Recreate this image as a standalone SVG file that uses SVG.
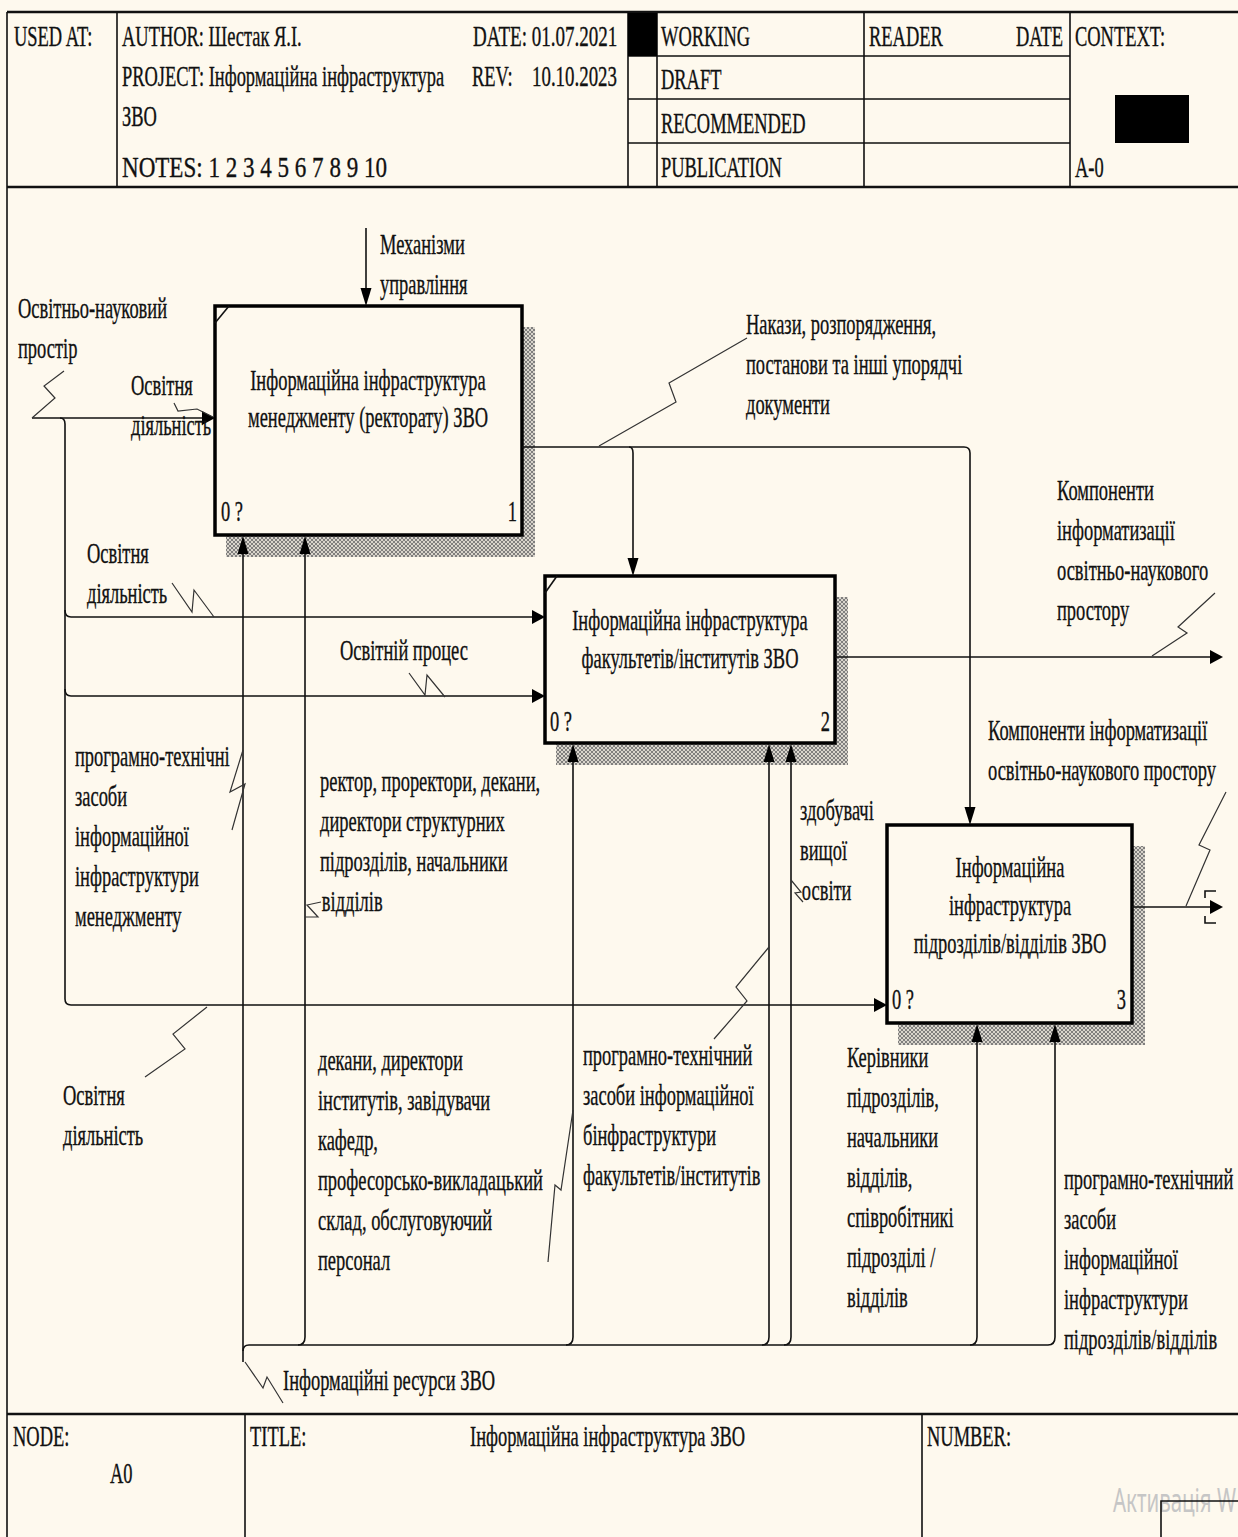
<svg xmlns="http://www.w3.org/2000/svg" xmlns:xlink="http://www.w3.org/1999/xlink" width="1238" height="1537" viewBox="0 0 1238 1537">
  <style>
    .t { font-family: "Liberation Serif", "Times New Roman", serif; font-size: 30px; fill: #111; stroke: #111; stroke-width: 0.35; }
    .mid { text-anchor: middle; }
    .end { text-anchor: end; }
    .frame { stroke: #111; stroke-width: 1.6; fill: none; }
    .thick { stroke: #111; stroke-width: 2.6; fill: none; }
    .ln { stroke: #111; stroke-width: 1.6; fill: none; }
    .sq { stroke: #333; stroke-width: 1.2; fill: none; }
    .box { fill: #fef9ee; stroke: #000; stroke-width: 3.5; }
    .shadow { fill: url(#hatch); }
    .ah { fill: #000; }
    .wm { font-family: "Noto Sans", "Liberation Sans", sans-serif; font-size: 33px; fill: #c6c6c6; }
  </style>
  <defs>
    <pattern id="hatch" width="4" height="4" patternUnits="userSpaceOnUse">
      <rect width="4" height="4" fill="#d9d5cc"/>
      <path d="M0 4 L4 0 M0 0 L4 4" stroke="#6a6a6a" stroke-width="0.8"/>
    </pattern>
    <!-- arrowheads: tip at the origin -->
    <path id="ahR" class="ah" d="M0 0 L-13 -7 L-13 7 Z"/>
    <path id="ahD" class="ah" d="M0 0 L-5.5 -18 L5.5 -18 Z"/>
    <path id="ahU" class="ah" d="M0 0 L-5.5 18 L5.5 18 Z"/>
  </defs>

  <rect width="1238" height="1537" fill="#fef9ee"/>

  <!-- header frame -->
  <g id="header">
    <path class="thick" d="M7 12 H1238 M7 187 H1238"/>
    <path class="frame" d="M7 12 V1537 M117 12 V187 M628 12 V187 M657 12 V187 M864 12 V187 M1070 12 V187"/>
    <path class="frame" d="M628 56 H1070 M628 99 H1070 M628 143 H1070"/>
    <rect x="628" y="13" width="29" height="43" fill="#000"/>
    <rect x="1115" y="95" width="74" height="48" fill="#000"/>
    <g transform="translate(14 46) scale(.615 1)"><text class="t">USED AT:</text></g>
    <g transform="translate(122 46) scale(.615 1)"><text class="t">AUTHOR:  Шестак Я.І.</text></g>
    <g transform="translate(473 46) scale(.635 1)"><text class="t">DATE: 01.07.2021</text></g>
    <g transform="translate(122 86) scale(.615 1)"><text class="t">PROJECT:  Інформаційна інфраструктура</text></g>
    <g transform="translate(472 86) scale(.615 1)"><text class="t">REV:</text></g>
    <g transform="translate(532 86) scale(.63 1)"><text class="t">10.10.2023</text></g>
    <g transform="translate(122 126) scale(.615 1)"><text class="t">ЗВО</text></g>
    <text class="t" x="122" y="177" textLength="265" lengthAdjust="spacingAndGlyphs">NOTES:  1  2  3  4  5  6  7  8  9  10</text>
    <g transform="translate(661 46) scale(.615 1)"><text class="t">WORKING</text></g>
    <g transform="translate(869 46) scale(.615 1)"><text class="t">READER</text></g>
    <g transform="translate(1063 46) scale(.615 1)"><text class="t end">DATE</text></g>
    <g transform="translate(1075 46) scale(.615 1)"><text class="t">CONTEXT:</text></g>
    <g transform="translate(661 89) scale(.615 1)"><text class="t">DRAFT</text></g>
    <g transform="translate(661 133) scale(.615 1)"><text class="t">RECOMMENDED</text></g>
    <g transform="translate(661 177) scale(.615 1)"><text class="t">PUBLICATION</text></g>
    <g transform="translate(1075 177) scale(.615 1)"><text class="t">A-0</text></g>
  </g>

  <!-- footer frame -->
  <g id="footer">
    <path class="thick" d="M7 1414 H1238"/>
    <path class="frame" d="M245 1414 V1537 M922 1414 V1537"/>
    <g transform="translate(13 1446) scale(.615 1)"><text class="t">NODE:</text></g>
    <g transform="translate(110 1483) scale(.615 1)"><text class="t">A0</text></g>
    <g transform="translate(250 1446) scale(.615 1)"><text class="t">TITLE:</text></g>
    <g transform="translate(470 1446) scale(.615 1)"><text class="t">Інформаційна  інфраструктура ЗВО</text></g>
    <g transform="translate(927 1446) scale(.615 1)"><text class="t">NUMBER:</text></g>
  </g>

  <!-- activities -->
  <g id="node1">
    <rect class="shadow" x="522" y="327" width="13" height="230"/>
    <rect class="shadow" x="226" y="535" width="309" height="22"/>
    <rect class="box" x="215" y="306" width="307" height="229"/>
    <path class="ln" d="M215 323 L229 306"/>
    <g transform="translate(368 390) scale(.615 1)"><text class="t mid"><tspan x="0">Інформаційна інфраструктура</tspan><tspan x="0" y="37">менеджменту (ректорату) ЗВО</tspan></text></g>
    <g transform="translate(221 521) scale(.615 1)"><text class="t">0 ?</text></g>
    <g transform="translate(517 521) scale(.615 1)"><text class="t end">1</text></g>
  </g>

  <g id="node2">
    <rect class="shadow" x="835" y="597" width="13" height="168"/>
    <rect class="shadow" x="556" y="743" width="292" height="22"/>
    <rect class="box" x="545" y="576" width="290" height="167"/>
    <path class="ln" d="M545 593 L557 576"/>
    <g transform="translate(690 630) scale(.615 1)"><text class="t mid"><tspan x="0">Інформаційна інфраструктура</tspan><tspan x="0" y="38">факультетів/інститутів ЗВО</tspan></text></g>
    <g transform="translate(550 731) scale(.615 1)"><text class="t">0 ?</text></g>
    <g transform="translate(830 731) scale(.615 1)"><text class="t end">2</text></g>
  </g>

  <g id="node3">
    <rect class="shadow" x="1132" y="846" width="13" height="199"/>
    <rect class="shadow" x="898" y="1023" width="247" height="22"/>
    <rect class="box" x="887" y="825" width="245" height="198"/>
    <g transform="translate(1010 877) scale(.615 1)"><text class="t mid"><tspan x="0">Інформаційна</tspan><tspan x="0" y="38">інфраструктура</tspan><tspan x="0" y="76">підрозділів/відділів ЗВО</tspan></text></g>
    <g transform="translate(892 1009) scale(.615 1)"><text class="t">0 ?</text></g>
    <g transform="translate(1126 1009) scale(.615 1)"><text class="t end">3</text></g>
  </g>

  <!-- arrows -->
  <g id="connectors">
    <!-- control into activity 1 -->
    <path class="ln" d="M366 228 V290"/>
    <use xlink:href="#ahD" x="366" y="306"/>

    <!-- boundary input and its branches -->
    <path class="ln" d="M32 418 H203"/>
    <use xlink:href="#ahR" x="215" y="418"/>
    <path class="ln" d="M60 418 Q65 418 65 424 V999 Q65 1005 71 1005 H876"/>
    <use xlink:href="#ahR" x="887" y="1005"/>
    <path class="ln" d="M65 610 Q65 617 71 617 H534"/>
    <use xlink:href="#ahR" x="545" y="617"/>
    <path class="ln" d="M65 689 Q65 696 71 696 H534"/>
    <use xlink:href="#ahR" x="545" y="696"/>

    <!-- output of activity 1 -->
    <path class="ln" d="M522 447 H964 Q970 447 970 453 V809"/>
    <use xlink:href="#ahD" x="970" y="825"/>
    <path class="ln" d="M629 447 Q633 447 633 453 V560"/>
    <use xlink:href="#ahD" x="633" y="576"/>

    <!-- outputs of activities 2 and 3 -->
    <path class="ln" d="M835 657 H1211"/>
    <use xlink:href="#ahR" x="1223" y="657"/>
    <path class="ln" d="M1132 907 H1211"/>
    <use xlink:href="#ahR" x="1223" y="907"/>
    <path class="ln" d="M1216 891 H1205 V898 M1205 916 V923 H1216"/>

    <!-- mechanism bus -->
    <path class="ln" d="M243 1362 V554"/>
    <use xlink:href="#ahU" x="243" y="536"/>
    <path class="ln" d="M243 1351 Q243 1345 249 1345 H1048"/>
    <path class="ln" d="M298 1345 Q305 1345 305 1337 V554"/>
    <use xlink:href="#ahU" x="305" y="536"/>
    <path class="ln" d="M566 1345 Q573 1345 573 1337 V762"/>
    <use xlink:href="#ahU" x="573" y="744"/>
    <path class="ln" d="M762 1345 Q769 1345 769 1337 V762"/>
    <use xlink:href="#ahU" x="769" y="744"/>
    <path class="ln" d="M784 1345 Q791 1345 791 1337 V762"/>
    <use xlink:href="#ahU" x="791" y="744"/>
    <path class="ln" d="M970 1345 Q977 1345 977 1337 V1042"/>
    <use xlink:href="#ahU" x="977" y="1024"/>
    <path class="ln" d="M1048 1345 Q1055 1345 1055 1337 V1042"/>
    <use xlink:href="#ahU" x="1055" y="1024"/>

    <!-- label leaders -->
    <path class="sq" d="M64 371 L44 386 L55 398 L32 418"/>
    <path class="sq" d="M174 403 L178 411 L197 409 L213 417"/>
    <path class="sq" d="M172 583 L192 612 L194 590 L214 617"/>
    <path class="sq" d="M409 673 L425 695 L427 675 L445 697"/>
    <path class="sq" d="M747 338 L669 383 L676 402 L599 446"/>
    <path class="sq" d="M1215 593 L1178 627 L1187 633 L1152 656"/>
    <path class="sq" d="M1226 792 L1199 845 L1210 850 L1186 906"/>
    <path class="sq" d="M243 750 L230 792 L245 784 L232 830"/>
    <path class="sq" d="M305 917 L318 917 L307 905 L321 902"/>
    <path class="sq" d="M207 1007 L173 1034 L185 1049 L145 1077"/>
    <path class="sq" d="M573 1110 L561 1190 L555 1185 L548 1262"/>
    <path class="sq" d="M769 947 L736 987 L747 1001 L714 1039"/>
    <path class="sq" d="M791 880 L801 892 L795 893 L803 902"/>
    <path class="sq" d="M245 1362 L263 1388 L267 1377 L283 1403"/>
  </g>

  <!-- arrow labels -->
  <g id="labels">
    <g transform="translate(380 254) scale(.615 1)"><text class="t"><tspan x="0">Механізми</tspan><tspan x="0" y="40">управління</tspan></text></g>
    <g transform="translate(18 318) scale(.615 1)"><text class="t"><tspan x="0">Освітньо-науковий</tspan><tspan x="0" y="40">простір</tspan></text></g>
    <g transform="translate(131 395) scale(.615 1)"><text class="t"><tspan x="0">Освітня</tspan><tspan x="0" y="40">діяльність</tspan></text></g>
    <g transform="translate(746 334) scale(.615 1)"><text class="t"><tspan x="0">Накази, розпорядження,</tspan><tspan x="0" y="40">постанови та інші упорядчі</tspan><tspan x="0" y="80">документи</tspan></text></g>
    <g transform="translate(1057 500) scale(.615 1)"><text class="t"><tspan x="0">Компоненти</tspan><tspan x="0" y="40">інформатизації</tspan><tspan x="0" y="80">освітньо-наукового</tspan><tspan x="0" y="120">простору</tspan></text></g>
    <g transform="translate(87 563) scale(.615 1)"><text class="t"><tspan x="0">Освітня</tspan><tspan x="0" y="40">діяльність</tspan></text></g>
    <g transform="translate(340 660) scale(.615 1)"><text class="t">Освітній процес</text></g>
    <g transform="translate(988 740) scale(.615 1)"><text class="t"><tspan x="0">Компоненти інформатизації</tspan><tspan x="0" y="40">освітньо-наукового простору</tspan></text></g>
    <g transform="translate(75 766) scale(.615 1)"><text class="t"><tspan x="0">програмно-технічні</tspan><tspan x="0" y="40">засоби</tspan><tspan x="0" y="80">інформаційної</tspan><tspan x="0" y="120">інфраструктури</tspan><tspan x="0" y="160">менеджменту</tspan></text></g>
    <g transform="translate(320 791) scale(.615 1)"><text class="t"><tspan x="0">ректор, проректори, декани,</tspan><tspan x="0" y="40">директори  структурних</tspan><tspan x="0" y="80">підрозділів, начальники</tspan><tspan x="3" y="120">відділів</tspan></text></g>
    <g transform="translate(800 820) scale(.615 1)"><text class="t"><tspan x="0">здобувачі</tspan><tspan x="0" y="40">вищої</tspan><tspan x="3" y="80">освіти</tspan></text></g>
    <g transform="translate(63 1105) scale(.615 1)"><text class="t"><tspan x="0">Освітня</tspan><tspan x="0" y="40">діяльність</tspan></text></g>
    <g transform="translate(318 1070) scale(.615 1)"><text class="t"><tspan x="0">декани, директори</tspan><tspan x="0" y="40">інститутів, завідувачи</tspan><tspan x="0" y="80">кафедр,</tspan><tspan x="0" y="120">професорсько-викладацький</tspan><tspan x="0" y="160">склад, обслуговуючий</tspan><tspan x="0" y="200">персонал</tspan></text></g>
    <g transform="translate(583 1065) scale(.615 1)"><text class="t"><tspan x="0">програмно-технічний</tspan><tspan x="0" y="40">засоби інформаційної</tspan><tspan x="0" y="80">бінфраструктури</tspan><tspan x="0" y="120">факультетів/інститутів</tspan></text></g>
    <g transform="translate(847 1067) scale(.615 1)"><text class="t"><tspan x="0">Керівники</tspan><tspan x="0" y="40">підрозділів,</tspan><tspan x="0" y="80">начальники</tspan><tspan x="0" y="120">відділів,</tspan><tspan x="0" y="160">співробітникі</tspan><tspan x="0" y="200">підрозділі /</tspan><tspan x="0" y="240">відділів</tspan></text></g>
    <g transform="translate(1064 1189) scale(.615 1)"><text class="t"><tspan x="0">програмно-технічний</tspan><tspan x="0" y="40">засоби</tspan><tspan x="0" y="80">інформаційної</tspan><tspan x="0" y="120">інфраструктури</tspan><tspan x="0" y="160">підрозділів/відділів</tspan></text></g>
    <g transform="translate(283 1390) scale(.615 1)"><text class="t">Інформаційні ресурси ЗВО</text></g>
  </g>

  <!-- system watermark in the lower right corner -->
  <text class="wm" x="1113" y="1512" textLength="123" lengthAdjust="spacingAndGlyphs">Активація W</text>
  <path class="frame" d="M1161 1537 V1501 H1238"/>
</svg>
